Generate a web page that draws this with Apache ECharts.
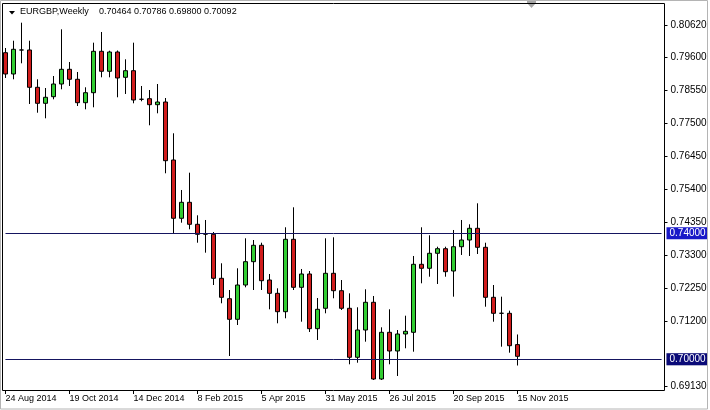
<!DOCTYPE html>
<html><head><meta charset="utf-8">
<script src="https://cdn.jsdelivr.net/npm/echarts@6/dist/echarts.min.js"></script>
<style>html,body{margin:0;padding:0;background:#fff}#c{width:710px;height:410px}</style>
</head><body><div id="c"></div>
<script>
// ---- data ----
const dates = [
  '24 Aug 2014','31 Aug 2014','7 Sep 2014','14 Sep 2014','21 Sep 2014','28 Sep 2014','5 Oct 2014','12 Oct 2014',
  '19 Oct 2014','26 Oct 2014','2 Nov 2014','9 Nov 2014','16 Nov 2014','23 Nov 2014','30 Nov 2014','7 Dec 2014',
  '14 Dec 2014','21 Dec 2014','28 Dec 2014','4 Jan 2015','11 Jan 2015','18 Jan 2015','25 Jan 2015','1 Feb 2015',
  '8 Feb 2015','15 Feb 2015','22 Feb 2015','1 Mar 2015','8 Mar 2015','15 Mar 2015','22 Mar 2015','29 Mar 2015',
  '5 Apr 2015','12 Apr 2015','19 Apr 2015','26 Apr 2015','3 May 2015','10 May 2015','17 May 2015','24 May 2015',
  '31 May 2015','7 Jun 2015','14 Jun 2015','21 Jun 2015','28 Jun 2015','5 Jul 2015','12 Jul 2015','19 Jul 2015',
  '26 Jul 2015','2 Aug 2015','9 Aug 2015','16 Aug 2015','23 Aug 2015','30 Aug 2015','6 Sep 2015','13 Sep 2015',
  '20 Sep 2015','27 Sep 2015','4 Oct 2015','11 Oct 2015','18 Oct 2015','25 Oct 2015','1 Nov 2015','8 Nov 2015',
  '15 Nov 2015'
];
const opens = [
  0.79740,0.79063,0.79826,0.79826,0.78640,0.78132,0.78342,0.78745,
  0.79212,0.78895,0.78151,0.78469,0.79784,0.79149,0.79762,0.78958,
  0.79168,0.78260,0.78278,0.78088,0.78173,0.76330,0.74478,0.74986,
  0.74287,0.73975,0.73969,0.72571,0.71923,0.71268,0.72358,0.73099,
  0.73620,0.72517,0.72094,0.71510,0.73810,0.72285,0.72708,0.70970,
  0.71618,0.72730,0.72177,0.71618,0.70061,0.70928,0.71809,0.69371,
  0.70855,0.70261,0.70801,0.70855,0.73016,0.72889,0.73366,0.73512,
  0.72803,0.73575,0.73788,0.74160,0.73556,0.71967,0.71460,0.71459,
  0.70464
];
const closes = [
  0.79063,0.79848,0.79826,0.78640,0.78132,0.78323,0.78745,0.79212,
  0.78895,0.78151,0.78469,0.79784,0.79149,0.79762,0.78936,0.79168,
  0.78237,0.78260,0.78088,0.78173,0.76308,0.74478,0.74986,0.74287,
  0.73969,0.73975,0.72571,0.71967,0.71268,0.72358,0.73099,0.73620,
  0.72495,0.72094,0.71510,0.73810,0.72285,0.72708,0.70970,0.71586,
  0.72730,0.72177,0.71618,0.70061,0.70928,0.71809,0.69371,0.70855,
  0.70261,0.70801,0.70887,0.73016,0.72889,0.73366,0.73512,0.72781,
  0.73575,0.73788,0.74160,0.73556,0.71967,0.71459,0.71460,0.70429,
  0.70092
];
const lows = [
  0.78936,0.78895,0.79403,0.78110,0.77833,0.77655,0.78259,0.78577,
  0.78682,0.78046,0.77941,0.78005,0.78958,0.78958,0.78323,0.78428,
  0.78132,0.78196,0.77433,0.77814,0.75908,0.74001,0.74338,0.74128,
  0.73702,0.73385,0.72358,0.71777,0.70102,0.71087,0.72285,0.72199,
  0.72199,0.71586,0.71141,0.71300,0.72199,0.71192,0.70865,0.70611,
  0.71459,0.71936,0.71564,0.69838,0.69889,0.70557,0.69340,0.69340,
  0.69838,0.69467,0.70347,0.70239,0.72412,0.72622,0.72390,0.72622,
  0.71987,0.73312,0.73280,0.73343,0.71669,0.71192,0.70398,0.70207,
  0.69800
];
const highs = [
  0.79889,0.80121,0.80693,0.80121,0.78895,0.78618,0.78999,0.80483,
  0.79444,0.79127,0.78640,0.80058,0.80398,0.79803,0.79810,0.79530,
  0.80058,0.78682,0.78555,0.78745,0.78300,0.77179,0.75377,0.75927,
  0.74573,0.74424,0.74042,0.73048,0.72199,0.72889,0.73842,0.73788,
  0.73702,0.72708,0.72253,0.74192,0.74827,0.72867,0.72803,0.71945,
  0.73842,0.73874,0.72517,0.72094,0.71650,0.72222,0.72009,0.71014,
  0.71586,0.70928,0.71383,0.73280,0.74192,0.73938,0.73575,0.73575,
  0.74106,0.74424,0.74287,0.74954,0.73702,0.72358,0.71987,0.71542,
  0.70786
];
const yTickValues = [0.80620,0.79600,0.78550,0.77500,0.76450,0.75400,0.74350,0.73300,0.72250,0.71200,0.69130];
const hLines = [0.74000, 0.70000];
const bidPrice = 0.70092;
const emptySlots = 18;
const symbolTitle = 'EURGBP,Weekly';
const ohlcTitle = '0.70464 0.70786 0.69800 0.70092';

// ---- build ----
const categories = dates.slice();
for (let k = 1; k <= emptySlots; k++) categories.push('+' + k);
const candles = opens.map((o, i) => [o, closes[i], lows[i], highs[i]]);
const showIdx = (idx) => idx % 8 === 0 && idx < dates.length;
const FONT = 'Liberation Sans';

const chart = echarts.init(document.getElementById('c'), null, {renderer: 'canvas'});
chart.setOption({
  animation: false,
  backgroundColor: '#ffffff',
  title: [
    {text: symbolTitle, left: 20, top: 7, padding: 0,
     textStyle: {fontFamily: FONT, fontSize: 9, fontWeight: 'normal', color: '#000'}},
    {text: ohlcTitle, left: 99, top: 7, padding: 0,
     textStyle: {fontFamily: FONT, fontSize: 9, fontWeight: 'normal', color: '#000'}}
  ],
  grid: {left: 5.5, right: 48.5, top: 4, bottom: 20, containLabel: false},
  xAxis: {
    type: 'category', data: categories, boundaryGap: false,
    axisLine: {show: false},
    axisTick: {show: true, interval: showIdx, length: 4, lineStyle: {color: '#000'}},
    axisLabel: {interval: showIdx, align: 'left', margin: 4, color: '#000',
                fontFamily: FONT, fontSize: 9},
    splitLine: {show: false}
  },
  yAxis: {
    type: 'value', position: 'right', offset: 3,
    min: 0.690217, max: 0.812873, scale: true,
    axisLine: {show: false},
    axisTick: {show: true, customValues: yTickValues, length: 3, lineStyle: {color: '#000'}},
    axisLabel: {customValues: yTickValues, formatter: v => v.toFixed(5), margin: 6,
                color: '#000', fontFamily: FONT, fontSize: 10},
    splitLine: {show: false}
  },
  series: [{
    type: 'candlestick',
    data: candles,
    barWidth: 4,
    clip: false,
    itemStyle: {
      color: '#32CD32', color0: '#D01C1C',
      borderColor: '#000', borderColor0: '#000', borderWidth: 1
    },
    markLine: {
      silent: true, symbol: ['none', 'none'], animation: false,
      data: [
        {yAxis: bidPrice, lineStyle: {color: '#b9b6cf', width: 1, type: 'solid'},
         label: {show: true, position: 'end', distance: 5, formatter: p => p.value.toFixed(5),
                 color: '#000', backgroundColor: '#c8c8c8', padding: [1, 2, 0, 3],
                 fontFamily: FONT, fontSize: 10, lineHeight: 11}},
        {yAxis: hLines[1], lineStyle: {color: '#151560', width: 1, type: 'solid'},
         label: {show: true, position: 'end', distance: 5, formatter: p => p.value.toFixed(5),
                 color: '#fff', backgroundColor: '#0a0a78', padding: [1, 2, 0, 3],
                 fontFamily: FONT, fontSize: 10, lineHeight: 11}},
        {yAxis: hLines[0], lineStyle: {color: '#151560', width: 1, type: 'solid'},
         label: {show: true, position: 'end', distance: 5, formatter: p => p.value.toFixed(5),
                 color: '#fff', backgroundColor: '#1818c8', padding: [1, 2, 0, 3],
                 fontFamily: FONT, fontSize: 10, lineHeight: 11}}
      ]
    }
  }],
  graphic: [
    {type: 'rect', shape: {x: 0.5, y: 0.5, width: 707, height: 408.5}, silent: true,
     style: {fill: 'none', stroke: '#b4b4b4', lineWidth: 1}, z: 100},
    {type: 'rect', shape: {x: 2.5, y: 3.5, width: 662, height: 387}, silent: true,
     style: {fill: 'none', stroke: '#000', lineWidth: 1}, z: 100},
    {type: 'polygon', shape: {points: [[9, 11], [15, 11], [12, 14.5]]}, silent: true,
     style: {fill: '#000'}, z: 100},
    {type: 'polygon', shape: {points: [[527, 0], [536, 0], [536, 3], [531.5, 8], [527, 3]]}, silent: true,
     style: {fill: '#a8a8a8'}, z: 99}
  ]
});
</script>
</body></html>
